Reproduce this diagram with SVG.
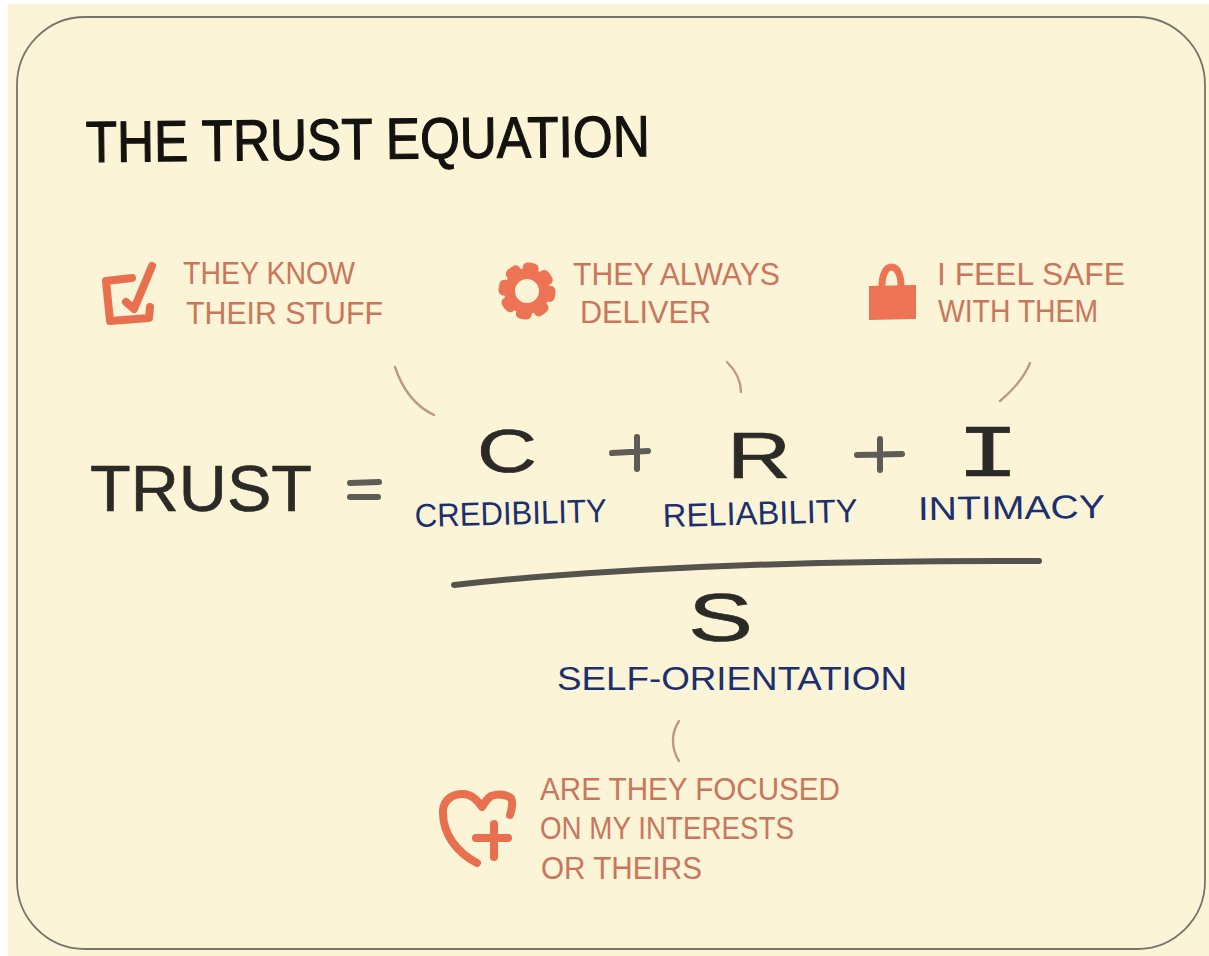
<svg xmlns="http://www.w3.org/2000/svg" width="1209" height="956" viewBox="0 0 1209 956">
<style>
text{font-family:"Liberation Sans",Arial,sans-serif;}
.title{font-size:58px;fill:#14120e;stroke:#14120e;stroke-width:1.2px;}
.big{fill:#2b2a26;stroke:#2b2a26;stroke-width:0.6px;}
.note{font-size:31px;fill:#c9775c;}
.name{font-size:33px;fill:#1c2f6e;}
.leader{fill:none;stroke:#bf9a80;stroke-width:2.4;stroke-linecap:round;}
.icon{fill:none;stroke:#e8704f;stroke-width:8;stroke-linecap:round;stroke-linejoin:round;}
.solid{fill:#ec7353;}
.mark{fill:none;stroke:#5e5c56;stroke-width:6;stroke-linecap:round;}
</style>
<rect width="1209" height="956" fill="#ffffff"/>
<rect x="8" y="4" width="1201" height="952" fill="#fbf4d6"/>
<rect id="frame" x="17" y="17" width="1188" height="932" rx="68" ry="68" fill="none" stroke="#77746a" stroke-width="1.8"/>
<g id="title"><text class="title" x="86" y="162" textLength="564" lengthAdjust="spacingAndGlyphs" transform="rotate(-0.6 86 162)">THE TRUST EQUATION</text></g>
<g id="node-credibility-note">
<path class="icon" d="M132 278 L106 281 L110 321 L149 318 L150 307"/>
<path class="icon" d="M126 302 L134 309 L152 266"/>
<text class="note" x="183" y="284" textLength="172" lengthAdjust="spacingAndGlyphs">THEY KNOW</text>
<text class="note" x="186" y="324" textLength="197" lengthAdjust="spacingAndGlyphs">THEIR STUFF</text>
</g>
<g id="node-reliability-note">
<circle cx="527" cy="291" r="17.5" fill="none" stroke="#ec7353" stroke-width="11"/>
<circle cx="527" cy="291" r="23.5" fill="none" stroke="#ec7353" stroke-width="10" stroke-linecap="round" stroke-dasharray="6 12.46"/>
<text class="note" x="573" y="285" textLength="207" lengthAdjust="spacingAndGlyphs">THEY ALWAYS</text>
<text class="note" x="580" y="323" textLength="131" lengthAdjust="spacingAndGlyphs">DELIVER</text>
</g>
<g id="node-intimacy-note">
<path class="solid" d="M869 286 L916 285 L916 319 L869 320 Z"/>
<path d="M882 288 C881 260 902 260 901 288" fill="none" stroke="#ec7353" stroke-width="7"/>
<text class="note" x="937" y="285" textLength="188" lengthAdjust="spacingAndGlyphs">I FEEL SAFE</text>
<text class="note" x="938" y="322" textLength="160" lengthAdjust="spacingAndGlyphs">WITH THEM</text>
</g>
<g id="connectors">
<path class="leader" d="M395 367 C402 388 415 406 434 415"/>
<path class="leader" d="M727 362 C735 370 741 380 741 392"/>
<path class="leader" d="M1030 363 C1024 378 1013 390 1000 401"/>
<path class="leader" d="M679 721 C671 733 671 748 679 761"/>
</g>
<g id="node-trust"><text class="big" x="90" y="511" font-size="64" textLength="222" lengthAdjust="spacingAndGlyphs">TRUST</text></g>
<g id="equals"><path class="mark" d="M350 483 L379 482 M350 497 L378 497"/></g>
<g id="node-c">
<text class="big" x="477" y="472" font-size="62" textLength="60" lengthAdjust="spacingAndGlyphs">C</text>
<text class="name" x="415" y="527" textLength="192" lengthAdjust="spacingAndGlyphs" transform="rotate(-1.5 415 527)">CREDIBILITY</text>
</g>
<g id="plus-1"><path class="mark" d="M612 453 L648 451 M637 437 L637 469"/></g>
<g id="node-r">
<text class="big" x="727" y="478" font-size="64" textLength="64" lengthAdjust="spacingAndGlyphs">R</text>
<text class="name" x="663" y="527" textLength="195" lengthAdjust="spacingAndGlyphs" transform="rotate(-1.5 663 527)">RELIABILITY</text>
</g>
<g id="plus-2"><path class="mark" d="M857 455 L902 454 M880 439 L880 470"/></g>
<g id="node-i">
<text class="big" x="956" y="476" font-size="74" textLength="64" lengthAdjust="spacingAndGlyphs" style="font-family:'Liberation Mono',monospace">I</text>
<text class="name" x="918" y="520" textLength="187" lengthAdjust="spacingAndGlyphs" transform="rotate(-0.6 918 520)">INTIMACY</text>
</g>
<g id="fraction-bar"><path d="M454 585 C620 566 850 560 1039 561" fill="none" stroke="#55534d" stroke-width="6" stroke-linecap="round"/></g>
<g id="node-s">
<text class="big" x="688" y="641" font-size="68" textLength="65" lengthAdjust="spacingAndGlyphs">S</text>
<text class="name" x="557" y="690" textLength="350" lengthAdjust="spacingAndGlyphs">SELF-ORIENTATION</text>
</g>
<g id="node-self-note">
<path class="icon" d="M510 815 C513 806 513 802 511 798 C505 794 497 794 491 796 C487 799 484 803 482 807 C476 798 470 794 463 794 C452 794 444 800 443 810 C442 835 458 853 477 863"/>
<path class="icon" d="M476 838 L508 838 M494 824 L494 857"/>
<text class="note" x="540" y="800" textLength="300" lengthAdjust="spacingAndGlyphs">ARE THEY FOCUSED</text>
<text class="note" x="540" y="839" textLength="254" lengthAdjust="spacingAndGlyphs">ON MY INTERESTS</text>
<text class="note" x="541" y="879" textLength="161" lengthAdjust="spacingAndGlyphs">OR THEIRS</text>
</g>
</svg>
